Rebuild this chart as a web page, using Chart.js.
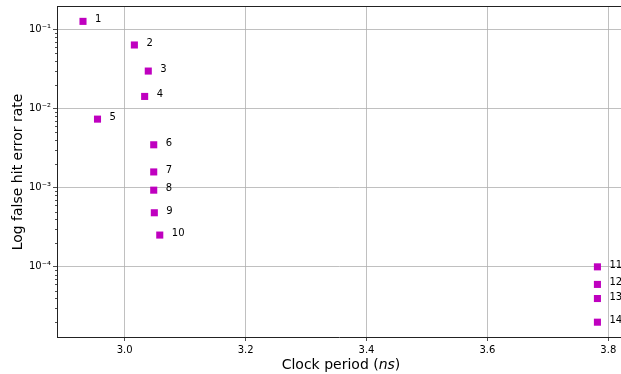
<!DOCTYPE html>
<html>
<head>
<meta charset="utf-8">
<script src="https://cdn.jsdelivr.net/npm/chart.js@4.4.0/dist/chart.umd.min.js"></script>
<style>
html,body{margin:0;padding:0;background:#fff;overflow:hidden;}
#wrap{width:621px;height:374px;overflow:hidden;}
canvas{display:block;}
</style>
</head>
<body>
<div id="wrap"><canvas id="c" width="626" height="374"></canvas></div>
<script>
// Data
const pointLabels = ["1","2","3","4","5","6","7","8","9","10","11","12","13","14"];
const clockPeriod = [2.931, 3.016, 3.039, 3.033, 2.955, 3.048, 3.048, 3.048, 3.049, 3.058, 3.782, 3.782, 3.782, 3.782];
const errorRate   = [0.126, 0.0634, 0.0297, 0.0142, 0.00734, 0.00348, 0.00158, 0.00093, 0.000482, 0.000252, 1.0e-4, 6.0e-5, 3.98e-5, 2.0e-5];
const xTicks = [3.0, 3.2, 3.4, 3.6, 3.8];
const yTicks = [1e-4, 1e-3, 1e-2, 1e-1];
const yTickLabels = ["10\u207B\u2074", "10\u207B\u00B3", "10\u207B\u00B2", "10\u207B\u00B9"];

const FONT = "'DejaVu Sans', sans-serif";

const extras = {
  id: 'extras',
  afterDraw(chart) {
    const ctx = chart.ctx;
    const ca = chart.chartArea;
    const ys = chart.scales.y;
    ctx.save();
    // top spine
    ctx.strokeStyle = '#222';
    ctx.lineWidth = 1;
    ctx.beginPath();
    ctx.moveTo(ca.left, ca.top + 0.5);
    ctx.lineTo(ca.right, ca.top + 0.5);
    ctx.stroke();
    // minor ticks on log axis
    ctx.beginPath();
    for (let e = -5; e <= -1; e++) {
      for (let m = 2; m <= 9; m++) {
        const v = m * Math.pow(10, e);
        if (v < ys.min || v > ys.max) continue;
        const py = Math.round(ys.getPixelForValue(v)) + 0.5;
        ctx.moveTo(ca.left - 2, py);
        ctx.lineTo(ca.left, py);
      }
    }
    ctx.lineWidth = 0.8;
    ctx.stroke();
    // point labels
    const meta = chart.getDatasetMeta(0);
    ctx.fillStyle = '#000';
    ctx.font = "10px " + FONT;
    ctx.textAlign = 'left';
    ctx.textBaseline = 'alphabetic';
    meta.data.forEach((p, i) => {
      ctx.fillText(pointLabels[i], p.x + 12, p.y + 1);
    });
    // x title with italic ns
    const fs = "14px " + FONT, fi = "italic 14px " + FONT;
    ctx.font = fs;
    const t1 = "Clock period (", t2 = "ns", t3 = ")";
    const w1 = ctx.measureText(t1).width;
    ctx.font = fi;
    const w2 = ctx.measureText(t2).width;
    ctx.font = fs;
    const w3 = ctx.measureText(t3).width;
    const total = w1 + w2 + w3;
    let sx = 341 - total / 2;
    const by = 369;
    ctx.fillText(t1, sx, by);
    ctx.font = fi;
    ctx.fillText(t2, sx + w1, by);
    ctx.font = fs;
    ctx.fillText(t3, sx + w1 + w2, by);
    // y title
    ctx.translate(22, 172);
    ctx.rotate(-Math.PI / 2);
    ctx.textAlign = 'center';
    ctx.fillText("Log false hit error rate", 0, 0);
    ctx.restore();
  }
};

new Chart(document.getElementById('c'), {
  type: 'scatter',
  data: {
    datasets: [{
      data: clockPeriod.map((x, i) => ({x: x, y: errorRate[i]})),
      backgroundColor: '#bf00bf',
      borderColor: '#bf00bf',
      borderWidth: 0,
      pointStyle: 'rect',
      pointRadius: 5,
      pointHoverRadius: 5
    }]
  },
  options: {
    responsive: false,
    animation: false,
    devicePixelRatio: 1,
    layout: {padding: {top: 6, right: 0, left: 0, bottom: 0}},
    plugins: {legend: {display: false}, tooltip: {enabled: false}},
    scales: {
      x: {
        type: 'linear',
        min: 2.888,
        max: 3.821,
        afterBuildTicks(scale) { scale.ticks = xTicks.map(v => ({value: v})); },
        afterFit(scale) { scale.height = 37; scale.paddingLeft = 0; scale.paddingRight = 0; },
        grid: {color: '#b0b0b0', lineWidth: 0.8, tickColor: '#222', tickLength: 4},
        border: {display: true, color: '#222', width: 1},
        ticks: {
          color: '#000',
          font: {family: FONT, size: 10},
          padding: 3,
          maxRotation: 0,
          callback: (v) => v.toFixed(1)
        }
      },
      y: {
        type: 'logarithmic',
        min: 1.30e-5,
        max: 0.197,
        afterBuildTicks(scale) { scale.ticks = yTicks.map(v => ({value: v})); },
        afterFit(scale) { scale.width = 57; scale.paddingTop = 0; scale.paddingBottom = 0; },
        grid: {color: '#b0b0b0', lineWidth: 0.8, tickColor: '#222', tickLength: 4},
        border: {display: true, color: '#222', width: 1},
        ticks: {
          color: '#000',
          font: {family: FONT, size: 10},
          padding: 2,
          callback: (v) => {
            const i = yTicks.findIndex(t => Math.abs(t - v) / t < 1e-6);
            return i >= 0 ? yTickLabels[i] : '';
          }
        }
      }
    }
  },
  plugins: [extras]
});
</script>
</body>
</html>
